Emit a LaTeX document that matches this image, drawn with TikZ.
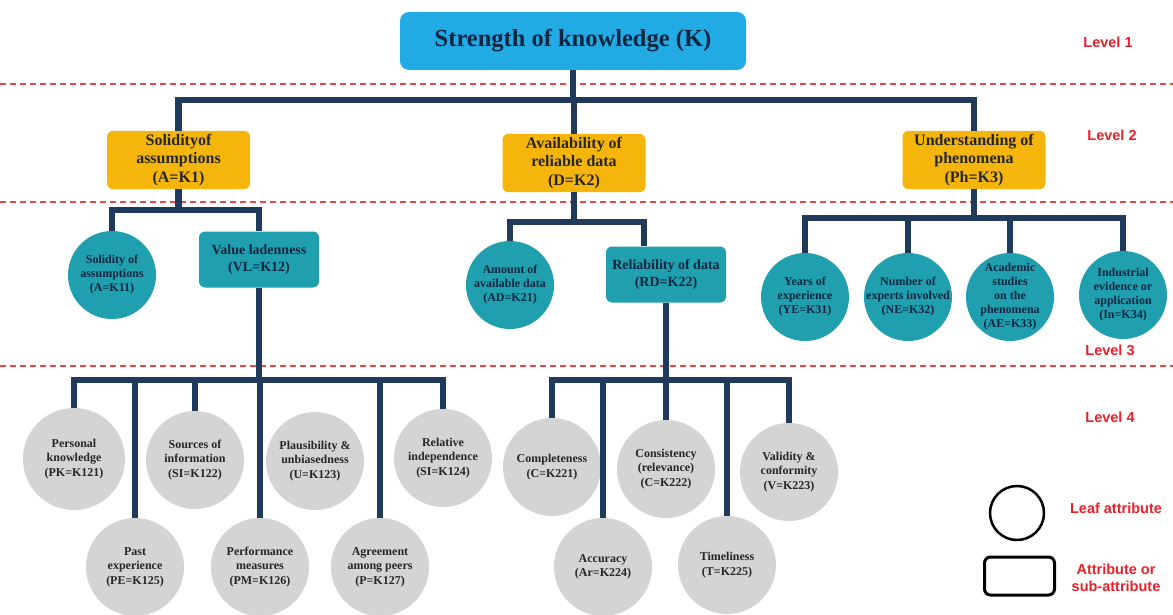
\documentclass[tikz,border=0pt]{standalone}
\usepackage{fontspec}
\setmainfont{Liberation Serif}
\newfontfamily\lblfont{Liberation Sans}
\definecolor{skyb}{HTML}{22AAE5}
\definecolor{orng}{HTML}{F5B50A}
\definecolor{tealc}{HTML}{20A0AF}
\definecolor{grayc}{HTML}{D4D4D4}
\definecolor{navyline}{HTML}{1F3A5A}
\definecolor{txtnavy}{HTML}{0E2640}
\definecolor{lvlred}{HTML}{E8202A}
\definecolor{dashred}{HTML}{E84848}
\begin{document}
\begin{tikzpicture}[x=1pt,y=-1pt,
 conn/.style={draw=navyline, line width=6.5pt},
 lvl/.style={draw=dashred, line width=1.3pt, dash pattern=on 6pt off 4pt},
 lvltext/.style={text=lvlred, font=\lblfont\bfseries\fontsize{14.5}{17}\selectfont, align=center},
 topbox/.style={rectangle, rounded corners=9pt, fill=skyb, minimum width=346pt, minimum height=58pt, font=\bfseries\fontsize{24.5}{28}\selectfont, text=txtnavy},
 l2box/.style={rectangle, rounded corners=6pt, fill=orng, minimum width=143pt, minimum height=57pt, align=center, font=\bfseries\fontsize{16}{18.5}\selectfont, text=black!85},
 l3box/.style={rectangle, rounded corners=6pt, fill=tealc, minimum width=120pt, minimum height=56pt, align=center, font=\bfseries\fontsize{14}{16.5}\selectfont, text=txtnavy},
 l3leaf/.style={circle, fill=tealc, minimum size=88pt, inner sep=0pt},
 l3txt/.style={align=center, font=\bfseries\fontsize{12}{14}\selectfont, text=txtnavy},
 l4leaf/.style={circle, fill=grayc, minimum size=98pt, inner sep=0pt},
 l4txt/.style={align=center, font=\bfseries\fontsize{12}{14.5}\selectfont, text=black!85},
]
\useasboundingbox (0,0) rectangle (1173,615);

% level separators
\draw[lvl] (0,84) -- (1173,84);
\draw[lvl] (0,202) -- (1173,202);
\draw[lvl] (0,366) -- (1173,366);

\node[lvltext] (lv1) at (1108,42) {Level 1};
\node[lvltext] (lv2) at (1112,135) {Level 2};
\node[lvltext] (lv3) at (1110,350) {Level 3};
\node[lvltext] (lv4) at (1110,417) {Level 4};

% level 1
\node[topbox] (k) at (573,41) {Strength of knowledge (K)};

% level 2
\node[l2box] (a) at (178.5,160) {Solidityof\\assumptions\\(A=K1)};
\node[l2box] (d) at (574,163) {Availability of\\reliable data\\(D=K2)};
\node[l2box] (ph) at (974,160) {Understanding of\\phenomena\\(Ph=K3)};

% level 3
\node[l3leaf, label={[l3txt]center:{Solidity of\\assumptions\\(A=K11)}}] (a11) at (112,275) {};
\node[l3box] (vl) at (259,259.5) {Value ladenness\\(VL=K12)};
\node[l3leaf, label={[l3txt]center:{Amount of\\available data\\(AD=K21)}}] (ad) at (510,285) {};
\node[l3box] (rd) at (666,274.5) {Reliability of data\\(RD=K22)};
\node[l3leaf, label={[l3txt]center:{Years of\\experience\\(YE=K31)}}] (ye) at (805,297) {};
\node[l3leaf, label={[l3txt]center:{Number of\\experts involved\\(NE=K32)}}] (ne) at (908,297) {};
\node[l3leaf, label={[l3txt]center:{Academic\\studies\\on the\\phenomena\\(AE=K33)}}] (ae) at (1010,297) {};
\node[l3leaf, label={[l3txt]center:{Industrial\\evidence or\\application\\(In=K34)}}] (in) at (1123,295) {};

% level 4 (value ladenness)
\node[l4leaf, minimum size=102pt, label={[l4txt]center:{Personal\\knowledge\\(PK=K121)}}] (pk) at (74,459) {};
\node[l4leaf, label={[l4txt]center:{Sources of\\information\\(SI=K122)}}] (si) at (195,460) {};
\node[l4leaf, label={[l4txt]center:{Plausibility \&\\unbiasedness\\(U=K123)}}] (u) at (315,461) {};
\node[l4leaf, label={[l4txt]center:{Relative\\independence\\(SI=K124)}}] (ri) at (443,458) {};
\node[l4leaf, label={[l4txt]center:{Past\\experience\\(PE=K125)}}] (pe) at (135,567) {};
\node[l4leaf, label={[l4txt]center:{Performance\\measures\\(PM=K126)}}] (pm) at (260,567) {};
\node[l4leaf, label={[l4txt]center:{Agreement\\among peers\\(P=K127)}}] (p) at (380,567) {};

% level 4 (reliability of data)
\node[l4leaf, label={[l4txt]center:{Completeness\\(C=K221)}}] (c1) at (552,467) {};
\node[l4leaf, label={[l4txt]center:{Consistency\\(relevance)\\(C=K222)}}] (c2) at (666,469) {};
\node[l4leaf, label={[l4txt]center:{Validity \&\\conformity\\(V=K223)}}] (v) at (789,472) {};
\node[l4leaf, label={[l4txt]center:{Accuracy\\(Ar=K224)}}] (ar) at (603,567) {};
\node[l4leaf, label={[l4txt]center:{Timeliness\\(T=K225)}}] (t) at (727,565) {};

% bus coordinates
\coordinate (bus1) at (0,100);
\coordinate (bus2) at (0,210);
\coordinate (bus3) at (0,222);
\coordinate (bus4) at (0,218);
\coordinate (bus5) at (0,380);

% connectors
\draw[conn] (k.south) -- (k.south |- bus1) -| (a.north);
\draw[conn] (k.south |- bus1) -| (d.north);
\draw[conn] (k.south |- bus1) -| (ph.north);

\draw[conn] (a.south) -- (a.south |- bus2) -| (a11.north);
\draw[conn] (a.south |- bus2) -| (vl.north);

\draw[conn] (d.south) -- (d.south |- bus3) -| (ad.north);
\draw[conn] (d.south |- bus3) -| ([xshift=-22pt]rd.north);

\draw[conn] (ph.south) -- (ph.south |- bus4) -| (ye.north);
\draw[conn] (ph.south |- bus4) -| (ne.north);
\draw[conn] (ph.south |- bus4) -| (ae.north);
\draw[conn] (ph.south |- bus4) -| (in.north);

\draw[conn] (vl.south) -- (vl.south |- bus5) -| (pk.north);
\draw[conn] (vl.south |- bus5) -| (pe.north);
\draw[conn] (vl.south |- bus5) -| (si.north);
\draw[conn] (vl.south |- bus5) -| (pm.north);
\draw[conn] (vl.south |- bus5) -| (p.north);
\draw[conn] (vl.south |- bus5) -| (ri.north);

\draw[conn] (rd.south) -- (rd.south |- bus5) -| (c1.north);
\draw[conn] (rd.south |- bus5) -| (ar.north);
\draw[conn] (rd.south |- bus5) -| (c2.north);
\draw[conn] (rd.south |- bus5) -| (t.north);
\draw[conn] (rd.south |- bus5) -| (v.north);

% legend
\node[draw=black, circle, line width=2.5pt, minimum size=54pt, inner sep=0pt] (lc) at (1017,513) {};
\node[draw=black, rectangle, rounded corners=6pt, line width=3pt, minimum width=70pt, minimum height=38pt] (lr) at (1019.5,576) {};
\node[lvltext] (lt1) at (1116,508) {Leaf attribute};
\node[lvltext] (lt2) at (1116,578) {Attribute or\\sub-attribute};
\end{tikzpicture}
\end{document}
